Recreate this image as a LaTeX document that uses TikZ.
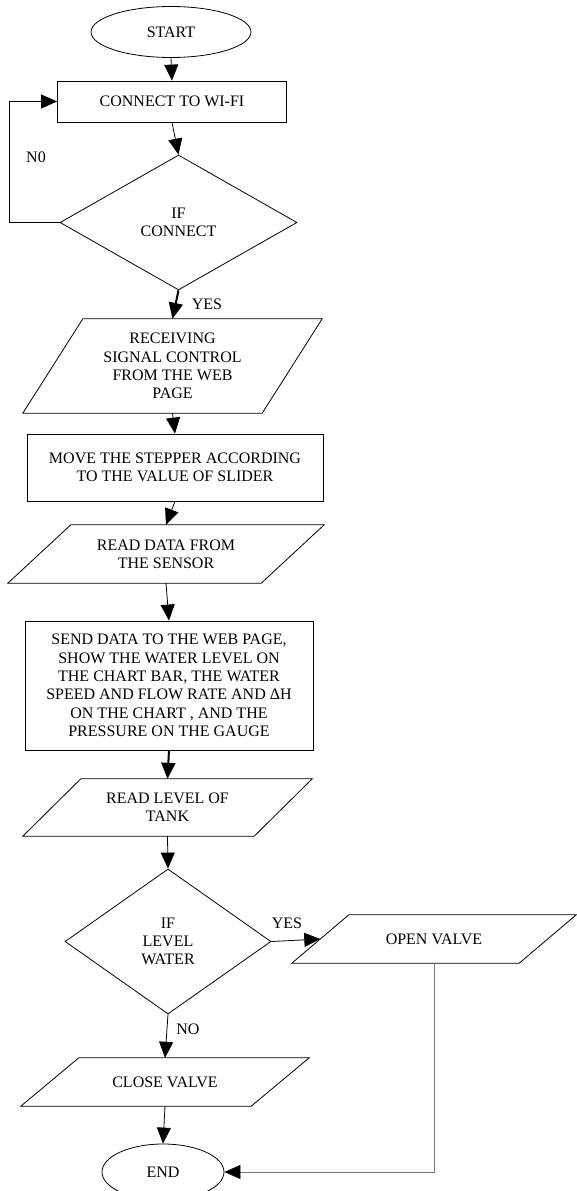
\documentclass[tikz,border=0pt]{standalone}
\usepackage{fontspec}
\setmainfont{Liberation Serif}
\usetikzlibrary{shapes.geometric,arrows.meta}
\begin{document}
\begin{tikzpicture}
[x=1pt,y=-1pt,%
  every node/.style={font=\fontsize{16}{18.3}\selectfont,align=center,inner sep=0pt},%
  terminaldecorate/.style={shape=ellipse,draw,line width=0.8pt},%
  processdecorate/.style={shape=rectangle,draw,line width=0.8pt},%
  decisiondecorate/.style={shape=diamond,draw,line width=0.8pt},%
  iodecorate/.style={shape=rectangle,
    append after command={\pgfextra{\draw[line width=0.8pt,line join=miter]
      ([xshift=#1]\tikzlastnode.north west) -- (\tikzlastnode.north east)
      -- ([xshift=-#1]\tikzlastnode.south east) -- (\tikzlastnode.south west) -- cycle;}}},%
  linedecorate/.style={-{Triangle[length=16pt,width=14pt,color=black]},line width=0.8pt},%
  thicklinedecorate/.style={linedecorate,line width=2pt}]
\useasboundingbox (0,0) rectangle (576,1191);
%% nodes or vertices
\node (start) at (171,32) [terminaldecorate,minimum width=160,minimum height=51] {START};
\node (wifi) at (172,101.5) [processdecorate,minimum width=229,minimum height=41] {CONNECT TO WI-FI};
\node (ifconn) at (178.5,222.5) [decisiondecorate,minimum width=237,minimum height=135] {IF\\CONNECT};
\node (recv) at (172.5,366) [iodecorate=60,minimum width=299,minimum height=94]
  {RECEIVING\\SIGNAL CONTROL\\FROM THE WEB\\PAGE};
\node (stepper) at (175,467.5) [processdecorate,minimum width=296,minimum height=67]
  {MOVE THE STEPPER ACCORDING\\TO THE VALUE OF SLIDER};
\node (sensor) at (166,554) [iodecorate=63,minimum width=316,minimum height=58]
  {READ DATA FROM\\THE SENSOR};
\node (send) at (169,685.5) [processdecorate,minimum width=288,minimum height=129]
  {SEND DATA TO THE WEB PAGE,\\SHOW THE WATER LEVEL ON\\THE CHART BAR, THE WATER\\SPEED AND FLOW RATE AND ΔH\\ON THE CHART , AND THE\\PRESSURE ON THE GAUGE};
\node (level) at (167.5,807.5) [iodecorate=58,minimum width=289,minimum height=57]
  {READ LEVEL OF\\TANK};
\node (iflevel) at (168,941.5) [decisiondecorate,minimum width=206,minimum height=145] {IF\\LEVEL\\WATER};
\node (open) at (434,939) [iodecorate=57,minimum width=284,minimum height=48] {OPEN VALVE};
\node (close) at (165,1082) [iodecorate=58,minimum width=288,minimum height=48] {CLOSE VALVE};
\node (end) at (163,1172) [terminaldecorate,minimum width=122,minimum height=56] {END};
\coordinate (openleft) at ([xshift=28.5]open.west);
%% labels
\node (nolabelone) at (36,157) {N0};
\node (yeslabelone) at (207,304) {YES};
\node (yeslabeltwo) at (287,923) {YES};
\node (nolabeltwo) at (188,1029) {NO};
%% edges or lines
\path
\foreach \startnode/\endnode in {start.south/wifi.north, wifi.south/ifconn.north,
  recv.south/stepper.north, stepper.south/sensor.north, sensor.south/send.north,
  level.south/iflevel.north, iflevel.south/close.north, close.south/end.north,
  iflevel.east/openleft} {
  (\startnode) edge[linedecorate] (\endnode)
};
\path
\foreach \startnode/\endnode in {ifconn.south/recv.north, send.south/level.north} {
  (\startnode) edge[thicklinedecorate] (\endnode)
};
\draw[linedecorate] (ifconn.west) -- ++(-50,0) |- (wifi.west);
\draw[linedecorate,draw=black!55] (open.south) |- (end.east);
\end{tikzpicture}
\end{document}
